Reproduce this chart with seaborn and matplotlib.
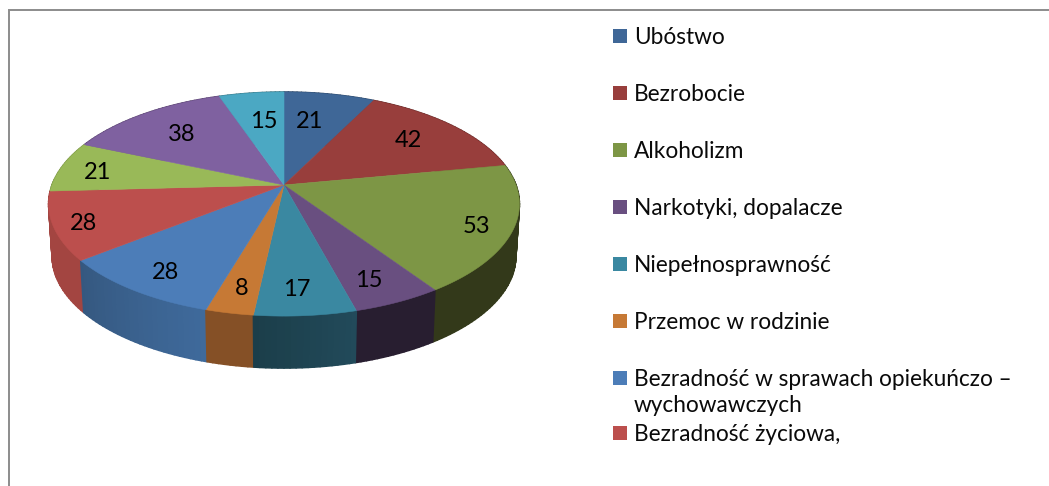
import numpy as np
import matplotlib
matplotlib.use("Agg")
import matplotlib.pyplot as plt
import seaborn as sns
from matplotlib.collections import PolyCollection
from matplotlib.patches import Rectangle
from matplotlib.path import Path
from matplotlib.transforms import Affine2D, Transform

# --- data -------------------------------------------------------------
values = [21, 42, 53, 15, 17, 8, 28, 28, 21, 38, 15]
legend_labels = ["Ubóstwo", "Bezrobocie", "Alkoholizm", "Narkotyki, dopalacze",
                 "Niepełnosprawność", "Przemoc w rodzinie",
                 "Bezradność w sprawach opiekuńczo –\nwychowawczych",
                 "Bezradność życiowa,"]
top_colors = ["#3F6797", "#983E3C", "#7D9645", "#694F80", "#3A88A1", "#C67935",
              "#4C7DB8", "#BC4F4D", "#99B958", "#7F61A0", "#4BA8C3"]
side_left = ["#2A4566", "#662A28", "#33391A", "#281E30", "#224A5A", "#855026",
             "#3F6A9C", "#A34541", "#7A9446", "#553F6B", "#32707F"]
side_right = ["#2A4566", "#662A28", "#33391A", "#281E30", "#1B3E49", "#855026",
              "#35587F", "#A34541", "#7A9446", "#553F6B", "#32707F"]
label_radius = [0.675, 0.727, 0.858, 0.824, 0.817, 0.83, 0.834, 0.878, 0.831, 0.70, 0.67]
label_turn_deg = [-2.9, -0.6, 1.7, 1.7, 1.2, -0.5, -1.5, -1.2, -1.6, -0.3, 1.2]

# --- style / layout ---------------------------------------------------
sns.set_theme(style="white")
plt.rcParams["font.family"] = ["Lato", "DejaVu Sans"]
CX, CY, RX, RY, K = 284.0, 185.0, 232.0, 108.8, 0.17
DEPTH, SHRINK = 52.0, 0.985
FS_LABEL, FS_LEGEND = 17.0, 16.3


def project(u, v, depth=0.0, shrink=1.0):
    """Perspective map from the unit pie circle to pixel coordinates."""
    u, v = np.asarray(u, float), np.asarray(v, float)
    w = 1 + K * v
    return CX + shrink * RX * u / w, CY - RY * v / w + depth


class TiltTransform(Transform):
    input_dims = output_dims = 2
    is_affine = False
    has_inverse = False

    def transform_non_affine(self, xy):
        xy = np.asarray(xy, float)
        return np.column_stack(project(xy[:, 0], xy[:, 1]))

    def transform_path_non_affine(self, path):
        fine = path.transformed(Affine2D().scale(3000)).to_polygons(closed_only=False)[0] / 3000
        return Path(self.transform_non_affine(fine))


fig = plt.figure(figsize=(10.49, 4.86), dpi=100)
ax = fig.add_axes([0, 0, 1, 1])

wedges, _ = ax.pie(values, colors=top_colors, startangle=90, counterclock=False,
                   radius=1, wedgeprops=dict(linewidth=0.4))
ax.set_aspect("auto")
ax.set_xlim(0, 1049)
ax.set_ylim(486, 0)
ax.axis("off")

# Shaded rim of the disc, built slice by slice from the same values.
fractions = np.cumsum([0] + values) / sum(values) * 2 * np.pi
quads, quad_colors, quad_depth = [], [], []
for i in range(len(values)):
    th = np.linspace(fractions[i], fractions[i + 1], max(4, values[i]) + 1)
    c0, c1 = np.array(matplotlib.colors.to_rgb(side_left[i])), np.array(matplotlib.colors.to_rgb(side_right[i]))
    for j in range(len(th) - 1):
        a, b = th[j], th[j + 1]
        xa, ya = project(np.sin(a), np.cos(a))
        xb, yb = project(np.sin(b), np.cos(b))
        xc, yc = project(np.sin(b), np.cos(b), DEPTH, SHRINK)
        xd, yd = project(np.sin(a), np.cos(a), DEPTH, SHRINK)
        quads.append([(xa, ya), (xb, yb), (xc, yc), (xd, yd)])
        t = (j + 0.5) / (len(th) - 1)
        quad_colors.append(c1 * t + c0 * (1 - t))  # clockwise order runs right-to-left
        quad_depth.append(np.cos((a + b) / 2))
order = np.argsort(quad_depth)[::-1]
rim = PolyCollection([quads[k] for k in order],
                     facecolors=[quad_colors[k] for k in order],
                     edgecolors=[quad_colors[k] for k in order],
                     linewidths=1.1, zorder=1)
ax.add_collection(rim)

tilt = TiltTransform() + ax.transData
for w, col in zip(wedges, top_colors):
    w.set_transform(tilt)
    w.set_edgecolor(col)
    w.set_zorder(2)

# Value labels
mid = (fractions[:-1] + fractions[1:]) / 2
for val, th, r, turn in zip(values, mid, label_radius, label_turn_deg):
    th = th + np.radians(turn)
    x, y = project(r * np.sin(th), r * np.cos(th))
    ax.text(x, y + 1, str(val), ha="center", va="center", fontsize=FS_LABEL, color="black", zorder=3)

# Legend
legend_y = [36, 93, 150, 207, 264, 321, 378, 433]
for lab, col, y in zip(legend_labels, top_colors, legend_y):
    ax.add_patch(Rectangle((613, y - 7), 14, 14, facecolor=col, edgecolor="none", zorder=3))
    ax.text(634, y - 9, lab, ha="left", va="top", fontsize=FS_LEGEND, color="#0A0A0A",
            linespacing=1.3, zorder=3)

# Chart frame (open on the right and at the bottom of the crop)
ax.plot([9, 9, 1049], [486, 10, 10], color="#8C8C8C", lw=1.4, zorder=0,
        solid_joinstyle="miter")

fig.savefig("out.png", dpi=100)
